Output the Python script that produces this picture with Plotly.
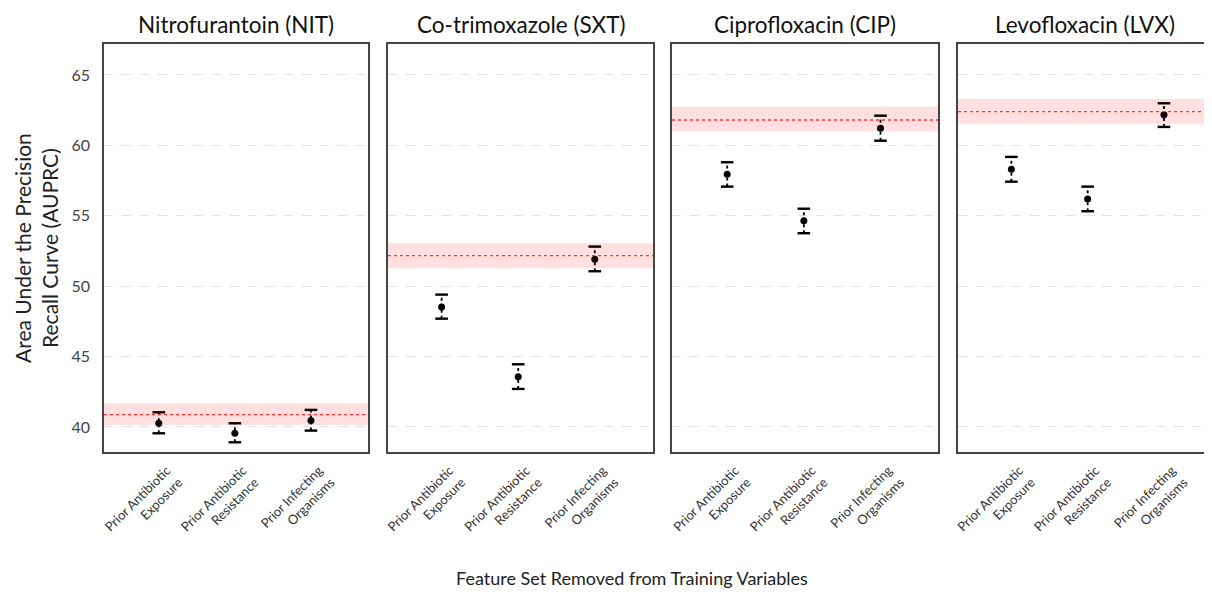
import plotly.graph_objects as go

# ---------------- data ----------------
antibiotics = ["Nitrofurantoin (NIT)", "Co-trimoxazole (SXT)", "Ciprofloxacin (CIP)", "Levofloxacin (LVX)"]
feature_sets = ["Prior Antibiotic<br>Exposure", "Prior Antibiotic<br>Resistance", "Prior Infecting<br>Organisms"]

baseline_mean = [40.87, 52.17, 61.80, 62.39]
baseline_lo = [40.14, 51.27, 61.00, 61.54]
baseline_hi = [41.68, 53.05, 62.75, 63.30]

nit_mean = [40.26, 39.55, 40.45]
nit_lo = [39.55, 38.91, 39.74]
nit_hi = [41.04, 40.26, 41.21]

sxt_mean = [48.52, 43.57, 51.91]
sxt_lo = [47.69, 42.70, 51.06]
sxt_hi = [49.40, 44.45, 52.81]

cip_mean = [57.95, 54.65, 61.21]
cip_lo = [57.07, 53.76, 60.33]
cip_hi = [58.80, 55.50, 62.11]

lvx_mean = [58.30, 56.19, 62.18]
lvx_lo = [57.42, 55.32, 61.31]
lvx_hi = [59.18, 57.07, 62.99]

y_ticks = [40, 45, 50, 55, 60, 65]

means = [nit_mean, sxt_mean, cip_mean, lvx_mean]
los = [nit_lo, sxt_lo, cip_lo, lvx_lo]
his = [nit_hi, sxt_hi, cip_hi, lvx_hi]

# ---------------- layout ----------------
# page has an 8px body margin, so the figure is sized to fill the rest of the window
OFF = 8
W, H = 1212 - OFF, 592 - OFF
FONT = "Lato"
panels_px = [(104, 368), (388, 653), (672, 938), (958, 1212)]
x_ranges = [[-0.72, 2.75], [-0.70, 2.76], [-0.72, 2.75], [-0.70, 2.63]]
y_range = [38.22, 67.20]
PLOT_TOP, PLOT_BOTTOM = 44 - OFF, 452 - OFF
PLOT_H = PLOT_BOTTOM - PLOT_TOP

fig = go.Figure()
layout_axes = {}

for i in range(4):
    n = "" if i == 0 else str(i + 1)
    xref, yref = "x" + n, "y" + n
    xs = [0, 1, 2]
    # baseline band and line
    fig.add_shape(type="rect", xref=xref + " domain", yref=yref, x0=0, x1=1,
                  y0=baseline_lo[i], y1=baseline_hi[i],
                  fillcolor="rgba(255,110,110,0.22)", line_width=0, layer="below")
    fig.add_shape(type="line", xref=xref + " domain", yref=yref, x0=0, x1=1,
                  y0=baseline_mean[i], y1=baseline_mean[i],
                  line=dict(color="#ff3535", width=1.3, dash="dot"), layer="above")
    # dotted error stems
    sx, sy = [], []
    for x, lo, hi in zip(xs, los[i], his[i]):
        sx += [x, x, None]
        sy += [lo, hi, None]
    fig.add_trace(go.Scatter(x=sx, y=sy, mode="lines", xaxis=xref, yaxis=yref,
                             line=dict(color="black", width=1.8, dash="dot"),
                             hoverinfo="skip", showlegend=False))
    # caps
    fig.add_trace(go.Scatter(x=xs + xs, y=los[i] + his[i], mode="markers", xaxis=xref, yaxis=yref,
                             marker=dict(symbol="line-ew", size=9,
                                         line=dict(color="black", width=2.4)),
                             hoverinfo="skip", showlegend=False))
    # points
    fig.add_trace(go.Scatter(x=xs, y=means[i], mode="markers", xaxis=xref, yaxis=yref,
                             marker=dict(color="black", size=7),
                             showlegend=False))

    x0, x1 = panels_px[i]
    x0, x1 = x0 - OFF, x1 - OFF
    layout_axes["xaxis" + n] = dict(
        domain=[x0 / W, min(x1 / W, 1.0)], range=x_ranges[i], anchor=yref,
        tickmode="array", tickvals=[0, 1, 2], ticktext=feature_sets,
        tickangle=-45, tickfont=dict(family=FONT, size=13, color="#333"),
        ticklabelshift=8,
        showgrid=False, zeroline=False, automargin=False,
        showline=True, mirror=True, linecolor="#444", linewidth=1.6,
        ticks="outside", ticklen=4, tickcolor="rgba(0,0,0,0)",
    )
    layout_axes["yaxis" + n] = dict(
        domain=[0, 1], range=y_range, anchor=xref,
        tickmode="array", tickvals=y_ticks,
        showticklabels=(i == 0), automargin=False,
        tickfont=dict(family=FONT, size=16, color="#444"),
        showgrid=True, gridcolor="#e3e3e3", griddash="dash", gridwidth=1,
        zeroline=False,
        showline=True, mirror=True, linecolor="#444", linewidth=1.6,
        ticks="outside", ticklen=9, tickcolor="rgba(0,0,0,0)",
    )
    fig.add_annotation(text=antibiotics[i], x=(x0 + x1) / 2 / W, y=1, xref="paper", yref="paper",
                       xanchor="center", yanchor="bottom", yshift=4, showarrow=False,
                       font=dict(family=FONT, size=22.5, color="#111"))

fig.add_annotation(text="Area Under the Precision<br>Recall Curve (AUPRC)",
                   x=(36 - OFF) / W, y=0.5, xref="paper", yref="paper", textangle=-90,
                   xanchor="center", yanchor="middle",
                   showarrow=False, font=dict(family=FONT, size=21, color="#222"))
fig.add_annotation(text="Feature Set Removed from Training Variables",
                   x=(632 - OFF) / W, y=-(578 - 452) / PLOT_H, xref="paper", yref="paper",
                   xanchor="center", yanchor="middle",
                   showarrow=False, font=dict(family=FONT, size=18, color="#222"))

fig.update_layout(
    width=W, height=H,
    margin=dict(l=0, r=0, t=PLOT_TOP, b=H - PLOT_BOTTOM),
    plot_bgcolor="white", paper_bgcolor="white",
    font=dict(family=FONT),
    **layout_axes,
)

fig.write_html("out.html")
